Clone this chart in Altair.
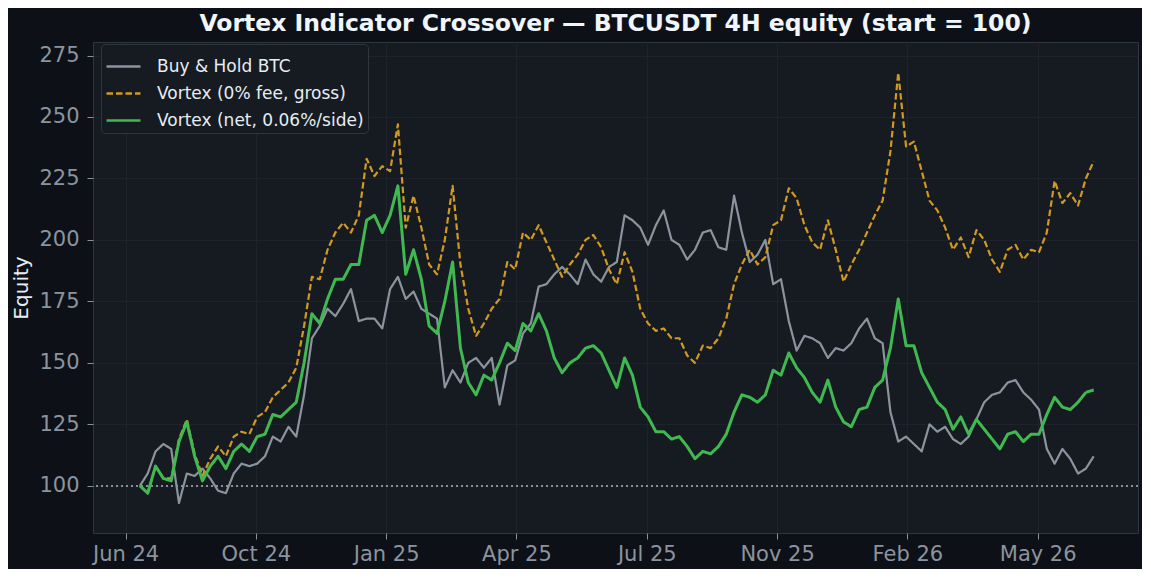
import altair as alt
import pandas as pd

# 4H equity curves, every 6 days
dates = pd.date_range("2024-07-07", periods=123, freq="6D").strftime("%Y-%m-%d").tolist()

buy_hold = [
    100, 105, 114, 117, 115, 93, 105, 104, 107, 103, 98, 97, 105, 109, 108, 109, 112,
    120, 118, 124, 120, 137, 160, 165, 172, 169, 174, 180, 167, 168, 168, 164, 180, 185,
    176, 179, 172, 170, 168, 140, 147, 142, 150, 152, 148, 152, 133, 149, 151, 162, 166,
    181, 182, 186, 189, 186, 182, 192, 186, 183, 189, 191, 210, 208, 205, 198, 206, 212, 200,
    198, 192, 196, 203, 204, 197, 196, 218, 203, 191, 194, 200, 182, 184, 167, 155, 161, 160,
    158, 152, 156, 155, 158, 164, 168, 160, 158, 130, 118, 120, 117, 114, 125, 122, 124,
    119, 117, 120, 127, 134, 137, 138, 142, 143, 138, 135, 131, 115, 109, 115, 111, 105, 107, 112,
]

vortex_gross = [
    100, 97, 108, 103, 103, 119, 127, 113, 104, 111, 116, 112, 120, 122, 121, 128, 130,
    136, 139, 142, 148, 165, 185, 184, 196, 203, 207, 203, 210, 233, 226, 230, 228, 247,
    205, 218, 205, 190, 186, 200, 222, 190, 172, 161, 166, 172, 176, 191, 188, 203, 200,
    206, 199, 192, 185, 190, 194, 200, 202, 197, 188, 182, 195, 187, 172, 166, 163, 164, 160,
    160, 153, 150, 157, 156, 160, 168, 182, 190, 196, 190, 193, 206, 208, 221, 217, 206, 199,
    196, 208, 196, 183, 190, 196, 203, 210, 216, 236, 268, 238, 240, 228, 216, 212, 205,
    196, 201, 193, 204, 200, 192, 187, 196, 198, 192, 196, 195, 203, 224, 215, 219, 214, 225, 232,
]

vortex_net = [
    100, 97, 108, 103, 102, 118, 126, 112, 102, 108, 112, 107, 114, 117, 114, 120, 121,
    129, 128, 131, 134, 150, 170, 166, 176, 184, 184, 190, 190, 208, 210, 203, 210, 222,
    186, 196, 184, 165, 162, 175, 191, 156, 142, 137, 145, 143, 150, 158, 155, 166, 163,
    170, 163, 152, 146, 150, 152, 156, 157, 154, 147, 140, 152, 145, 132, 128, 122, 122, 119,
    120, 116, 111, 114, 113, 116, 121, 130, 137, 136, 134, 137, 147, 145, 154, 148, 144, 138,
    134, 143, 132, 126, 124, 131, 132, 140, 143, 156, 176, 157, 157, 146, 140, 134, 131,
    123, 128, 121, 127, 123, 119, 115, 121, 122, 118, 121, 121, 129, 136, 132, 131, 134, 138, 139,
]

series_names = ["Buy & Hold BTC", "Vortex (0% fee, gross)", "Vortex (net, 0.06%/side)"]
series_colors = ["#8b949e", "#d29922", "#3fb950"]
series_widths = [2.2, 2.2, 3.0]
series_dashes = [[1, 0], [6.5, 3], [1, 0]]

tick_dates = ["2024-06-26", "2024-10-04", "2025-01-12", "2025-04-22",
              "2025-07-31", "2025-11-08", "2026-02-16", "2026-05-27"]
y_ticks = [100, 125, 150, 175, 200, 225, 250, 275]


def ms(d):
    return int(pd.Timestamp(d, tz="UTC").value // 10**6)


df = pd.DataFrame({
    "date": dates * 3,
    "equity": buy_hold + vortex_gross + vortex_net,
    "series": [name for name in series_names for _ in dates],
})

x_enc = alt.X("date:T", title=None,
              scale=alt.Scale(type="utc", domain=[ms("2024-06-01"), ms("2026-08-12")]),
              axis=alt.Axis(values=[ms(d) for d in tick_dates],
                            labelExpr="utcFormat(datum.value, '%b %y')", labelPadding=4))
y_enc = alt.Y("equity:Q", title="Equity",
              scale=alt.Scale(domain=[80.8, 280.5], nice=False, zero=False),
              axis=alt.Axis(values=y_ticks, labelPadding=8, titlePadding=7))
color_enc = alt.Color("series:N", sort=series_names,
                      scale=alt.Scale(domain=series_names, range=series_colors),
                      legend=alt.Legend(orient="none", legendX=8, legendY=2, title=None))
dash_enc = alt.StrokeDash("series:N", sort=series_names,
                          scale=alt.Scale(domain=series_names, range=series_dashes),
                          legend=alt.Legend(orient="none", legendX=8, legendY=2, title=None))


def series_layer(name, width):
    return alt.Chart(df).mark_line(strokeWidth=width, strokeCap="butt", strokeJoin="round").encode(
        x=x_enc, y=y_enc, color=color_enc, strokeDash=dash_enc
    ).transform_filter(alt.datum.series == name)


ref = alt.Chart(df).mark_rule(color="#8b949e", strokeWidth=1, strokeDash=[1.5, 3.5], opacity=0.8).encode(
    y=alt.datum(100)
)

layers = [ref] + [series_layer(n, w) for n, w in zip(series_names, series_widths)]

chart = alt.layer(*layers).properties(
    width=1045,
    height=491,
    autosize=alt.AutoSizeParams(type="none"),
    padding={"left": 85, "top": 34, "right": 4, "bottom": 36},
    background="#0d1117",
    title=alt.TitleParams(
        "Vortex Indicator Crossover \u2014 BTCUSDT 4H equity (start = 100)",
        font="DejaVu Sans", fontSize=23.5, fontWeight="bold", color="#f0f6fc",
        anchor="middle", offset=7,
    ),
).configure_view(
    fill="#161b22", stroke="#30363d", strokeWidth=1
).configure_axis(
    domain=False,
    grid=True, gridColor="#21262d", gridWidth=0.8,
    tickColor="#8b949e", tickSize=6,
    labelColor="#8b949e", labelFont="DejaVu Sans", labelFontSize=21,
    titleColor="#e6edf3", titleFont="DejaVu Sans", titleFontSize=20, titleFontWeight="normal",
).configure_legend(
    fillColor="#161b22", strokeColor="#30363d", cornerRadius=4, padding=4,
    labelColor="#e6edf3", labelFont="DejaVu Sans", labelFontSize=17, labelOffset=15,
    symbolType="stroke", symbolSize=1156, symbolStrokeWidth=2.6, rowPadding=-8, labelLimit=400,
)

chart.save("out.html", embed_options={"renderer": "svg", "actions": False})
